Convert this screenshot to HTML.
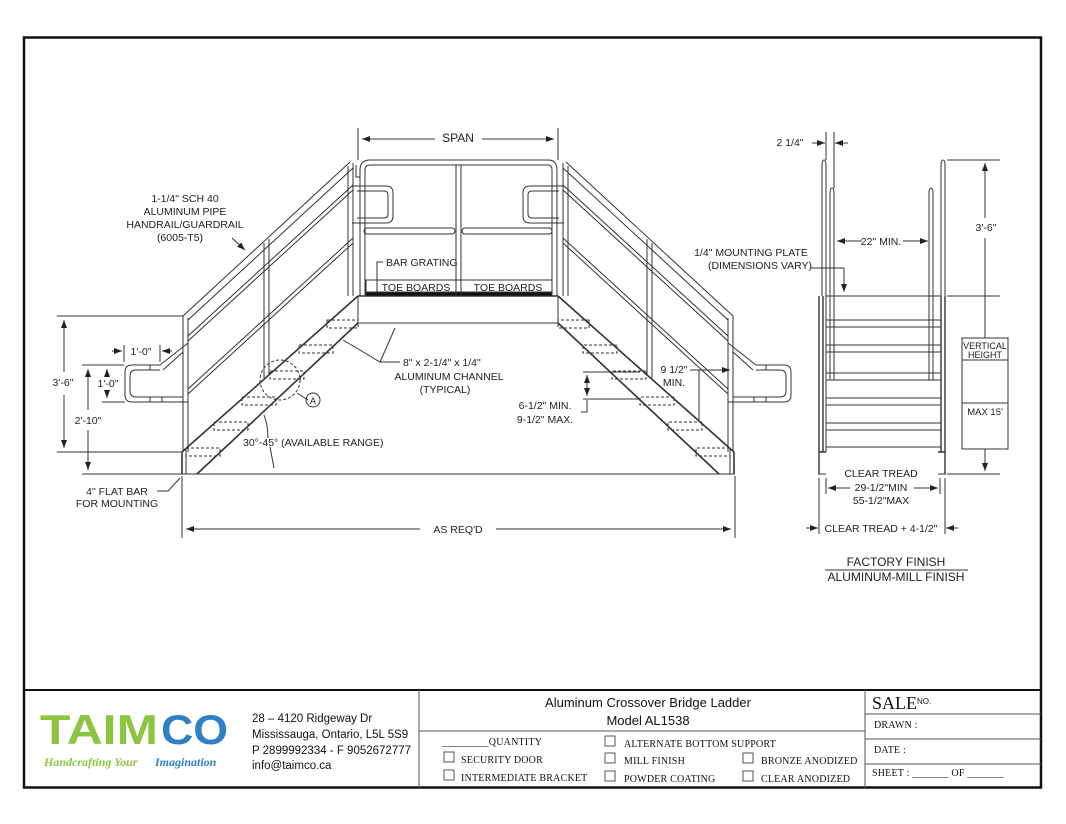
<!DOCTYPE html>
<html><head><meta charset="utf-8"><style>
body{margin:0;background:#fff;}
svg{display:block;}
.d{font-family:"Liberation Sans",sans-serif;font-size:10.5px;fill:#222;}
.s{font-family:"Liberation Serif",serif;font-size:10px;fill:#111;letter-spacing:0.2px;}
</style></head><body>
<svg width="1066" height="824" viewBox="0 0 1066 824" xmlns="http://www.w3.org/2000/svg">
<defs>
<marker id="ar" markerWidth="8" markerHeight="6" refX="8" refY="3" orient="auto" markerUnits="userSpaceOnUse"><path d="M0,0 L8,3 L0,6 z" fill="#222"/></marker>
<g id="side" fill="none" stroke="#333" stroke-width="1">
  <path d="M182,452 L358,296 M197,474 L358,323 M182,452 L182,474" stroke-width="1.6"/>
  <path d="M186,452 L186,474"/>
  <g stroke-dasharray="3,2">
    <rect x="186" y="448" width="34" height="8"/>
    <rect x="214" y="422" width="34" height="8"/>
    <rect x="242" y="397" width="34" height="8"/>
    <rect x="270" y="371" width="34" height="8"/>
    <rect x="299" y="345" width="34" height="8"/>
    <rect x="327" y="320" width="31" height="8"/>
  </g>
  <path d="M183,316 L183,452 M188,318 L188,452"/>
  <path d="M264,243 L264,378 M269,239 L269,374"/>
  <path d="M348,166 L348,296 M353,163 L353,296"/>
  <path d="M183,316 L350,162 M188,320 L353,168"/>
  <path d="M188,336 L353,185 M188,341 L353,190"/>
  <path d="M188,389 L353,238 M188,394 L353,243"/>
  <path d="M188,343 L160,365 M183,352 L163,370"/>
  <path d="M160,365 L132,365 Q125,365 125,372 L125,395 Q125,402 132,402 L188,402"/>
  <path d="M160,370 L136,370 Q130,370 130,376 L130,391 Q130,397 136,397 L183,397"/>
  <path d="M150,365 L150,370 M150,397 L150,402 M162,397 L162,402"/>
</g>
</defs>
<rect x="0" y="0" width="1066" height="824" fill="#fff"/>
<rect x="24" y="37.5" width="1017" height="750" fill="none" stroke="#111" stroke-width="2.5"/>
<line x1="24" y1="690" x2="1041" y2="690" stroke="#111" stroke-width="2"/>
<line x1="419" y1="690" x2="419" y2="788" stroke="#555" stroke-width="1"/>
<line x1="865" y1="690" x2="865" y2="788" stroke="#555" stroke-width="1"/>
<line x1="419" y1="731" x2="865" y2="731" stroke="#555"/>
<line x1="865" y1="714" x2="1041" y2="714" stroke="#555"/>
<line x1="865" y1="739" x2="1041" y2="739" stroke="#555"/>
<line x1="865" y1="764" x2="1041" y2="764" stroke="#555"/>

<use href="#side"/>
<use href="#side" transform="translate(916,0) scale(-1,1)"/>

<g fill="none" stroke="#333" stroke-width="1">
  <circle cx="280" cy="380" r="20" stroke-dasharray="3,2"/>
  <line x1="182" y1="474" x2="735" y2="474"/>
  <line x1="358" y1="296" x2="558" y2="296" stroke-width="1.4"/>
  <line x1="358" y1="323" x2="558" y2="323"/>
  <line x1="358" y1="296" x2="358" y2="323"/>
  <line x1="558" y1="296" x2="558" y2="323"/>
  <rect x="366" y="280" width="186" height="13"/>
  <rect x="366" y="292" width="186" height="4" fill="#111"/>
  <path d="M360,296 L360,170 Q360,160 370,160 L548,160 Q557,160 557,170 L557,296"/>
  <path d="M365,296 L365,170 Q365,165 370,165 L548,165 Q552,165 552,170 L552,296"/>
  <path d="M456,296 L456,165 M461,296 L461,165"/>
  <path d="M356,165 L356,177 L360,177"/>
  <rect x="364" y="228" width="91" height="6" rx="3"/>
  <rect x="462" y="228" width="90" height="6" rx="3"/>
  <path d="M352,186 L386,186 Q393,186 393,193 L393,216 Q393,223 386,223 L352,223"/>
  <path d="M357,191 L384,191 Q388,191 388,195 L388,214 Q388,218 384,218 L357,218"/>
  <path d="M564,186 L530,186 Q523,186 523,193 L523,216 Q523,223 530,223 L564,223"/>
  <path d="M559,191 L532,191 Q528,191 528,195 L528,214 Q528,218 532,218 L559,218"/>
  <path d="M358,128 L358,160 M558,128 L558,160"/>
  <line x1="435" y1="139" x2="362" y2="139" marker-end="url(#ar)"/>
  <line x1="482" y1="139" x2="554" y2="139" marker-end="url(#ar)"/>
  <path d="M182,476 L182,538 M735,476 L735,538"/>
  <line x1="420" y1="529" x2="186" y2="529" marker-end="url(#ar)"/>
  <line x1="496" y1="529" x2="731" y2="529" marker-end="url(#ar)"/>
  <path d="M57,316 L183,316 M57,452 L182,452 M82,365 L124,365 M82,474 L182,474 M102,402 L125,402"/>
  <line x1="64" y1="372" x2="64" y2="320" marker-end="url(#ar)"/>
  <line x1="64" y1="395" x2="64" y2="448" marker-end="url(#ar)"/>
  <line x1="88" y1="410" x2="88" y2="369" marker-end="url(#ar)"/>
  <line x1="88" y1="430" x2="88" y2="470" marker-end="url(#ar)"/>
  <line x1="107" y1="376" x2="107" y2="369" marker-end="url(#ar)"/>
  <line x1="107" y1="390" x2="107" y2="398" marker-end="url(#ar)"/>
  <path d="M124,345 L124,362 M160,345 L160,362"/>
  <line x1="112" y1="351" x2="122" y2="351" marker-end="url(#ar)"/>
  <line x1="172" y1="351" x2="162" y2="351" marker-end="url(#ar)"/>
  <path d="M232,238 L245,250" marker-end="url(#ar)"/>
  <path d="M383,262 L377,262 L377,292"/>
  <path d="M400,362 L380,362 L343,340"/>
  <path d="M380,362 L395,328"/>
  <path d="M297,393 L308,400"/>
  <path d="M157,491 L168,491 L180,478"/>
  <path d="M270,447 L274,468"/>
  <path d="M268,438 Q268,425 264,415"/>
  <path d="M583,372 L640,372 M583,399 L640,399"/>
  <line x1="587" y1="386" x2="587" y2="375" marker-end="url(#ar)"/>
  <line x1="587" y1="386" x2="587" y2="396" marker-end="url(#ar)"/>
  <path d="M581,412 L587,412 L587,400"/>
  <path d="M699,370 L699,420"/>
  <line x1="690" y1="370" x2="730" y2="370" marker-end="url(#ar)"/>
  <circle cx="313" cy="400" r="7"/>

  <path d="M819,296 L819,474 M823,296 L823,452 M945,296 L945,474 M941,296 L941,452 M819,452 L826,452 M938,452 L945,452" stroke-width="1.4"/>
  <path d="M818,474 L826,474 M938,474 L946,474"/>
  <path d="M822,296 L822,165 Q822,160 824,160 Q826,160 826,165 L826,452"/>
  <path d="M941,296 L941,165 Q941,160 943,160 Q945,160 945,165 L945,296"/>
  <path d="M830,380 L830,193 Q830,188 832,188 Q834,188 834,193 L834,380 Z"/>
  <path d="M929,380 L929,193 Q929,188 931,188 Q933,188 933,193 L933,380 Z"/>
  <path d="M826,296 L941,296"/>
  <path d="M826,320 L941,320 M826,327 L941,327"/>
  <path d="M826,345 L941,345 M826,352 L941,352"/>
  <path d="M826,373 L941,373 M826,380 L941,380"/>
  <path d="M826,398 L941,398 M826,405 L941,405"/>
  <path d="M826,423 L941,423 M826,430 L941,430"/>
  <path d="M826,447 L941,447"/>
  <path d="M826,132 L826,160 M834,132 L834,188"/>
  <line x1="812" y1="143" x2="825" y2="143" marker-end="url(#ar)"/>
  <line x1="848" y1="143" x2="835" y2="143" marker-end="url(#ar)"/>
  <line x1="862" y1="241" x2="837" y2="241" marker-end="url(#ar)"/>
  <line x1="903" y1="241" x2="928" y2="241" marker-end="url(#ar)"/>
  <path d="M811,268 L844,268" />
  <line x1="844" y1="268" x2="844" y2="292" marker-end="url(#ar)"/>
  <path d="M947,160 L1000,160 M947,296 L1000,296 M947,474 L1000,474"/>
  <line x1="985" y1="218" x2="985" y2="163" marker-end="url(#ar)"/>
  <line x1="985" y1="238" x2="985" y2="338"/>
  <line x1="985" y1="449" x2="985" y2="471" marker-end="url(#ar)"/>
  <rect x="962" y="338" width="46" height="111"/>
  <path d="M962,360 L1008,360 M962,403 L1008,403"/>
  <path d="M826,478 L826,494 M940,478 L940,494 M819,478 L819,534 M945,478 L945,534"/>
  <line x1="850" y1="488" x2="828" y2="488" marker-end="url(#ar)"/>
  <line x1="914" y1="488" x2="938" y2="488" marker-end="url(#ar)"/>
  <line x1="806" y1="528" x2="818" y2="528" marker-end="url(#ar)"/>
  <line x1="958" y1="528" x2="946" y2="528" marker-end="url(#ar)"/>
  <line x1="825" y1="570" x2="968" y2="570"/>
</g>

<g class="d">
  <text x="458" y="142" text-anchor="middle" font-size="12">SPAN</text>
  <text x="185" y="202" text-anchor="middle">1-1/4" SCH 40</text>
  <text x="185" y="215" text-anchor="middle">ALUMINUM PIPE</text>
  <text x="185" y="228" text-anchor="middle">HANDRAIL/GUARDRAIL</text>
  <text x="180" y="241" text-anchor="middle">(6005-T5)</text>
  <text x="386" y="266">BAR GRATING</text>
  <text x="416" y="291" text-anchor="middle">TOE BOARDS</text>
  <text x="508" y="291" text-anchor="middle">TOE BOARDS</text>
  <text x="403" y="366">8" x 2-1/4" x 1/4"</text>
  <text x="449" y="380" text-anchor="middle">ALUMINUM CHANNEL</text>
  <text x="445" y="393" text-anchor="middle">(TYPICAL)</text>
  <text x="313" y="404" text-anchor="middle" font-size="9">A</text>
  <text x="243" y="446">30°-45° (AVAILABLE RANGE)</text>
  <text x="117" y="495" text-anchor="middle">4" FLAT BAR</text>
  <text x="117" y="507" text-anchor="middle">FOR MOUNTING</text>
  <text x="458" y="533" text-anchor="middle">AS REQ'D</text>
  <text x="63" y="386" text-anchor="middle">3'-6"</text>
  <text x="88" y="424" text-anchor="middle">2'-10"</text>
  <text x="108" y="387" text-anchor="middle">1'-0"</text>
  <text x="141" y="355" text-anchor="middle">1'-0"</text>
  <text x="674" y="373" text-anchor="middle">9 1/2"</text>
  <text x="674" y="386" text-anchor="middle">MIN.</text>
  <text x="545" y="409" text-anchor="middle">6-1/2" MIN.</text>
  <text x="545" y="423" text-anchor="middle">9-1/2" MAX.</text>
  <text x="790" y="146" text-anchor="middle">2 1/4"</text>
  <text x="881" y="245" text-anchor="middle">22" MIN.</text>
  <text x="751" y="256" text-anchor="middle">1/4" MOUNTING PLATE</text>
  <text x="760" y="269" text-anchor="middle">(DIMENSIONS VARY)</text>
  <text x="986" y="231" text-anchor="middle">3'-6"</text>
  <text x="985" y="349" text-anchor="middle" font-size="9">VERTICAL</text>
  <text x="985" y="358" text-anchor="middle" font-size="9">HEIGHT</text>
  <text x="985" y="415" text-anchor="middle" font-size="9.5">MAX 15'</text>
  <text x="881" y="477" text-anchor="middle">CLEAR TREAD</text>
  <text x="881" y="491" text-anchor="middle">29-1/2"MIN</text>
  <text x="881" y="504" text-anchor="middle">55-1/2"MAX</text>
  <text x="881" y="532" text-anchor="middle">CLEAR TREAD + 4-1/2"</text>
  <text x="896" y="566" text-anchor="middle" font-size="12">FACTORY FINISH</text>
  <text x="896" y="581" text-anchor="middle" font-size="12">ALUMINUM-MILL FINISH</text>
</g>

<g font-family="Liberation Sans, sans-serif" font-weight="bold">
  <text x="40" y="744" font-size="42" fill="#8cc540" textLength="118" lengthAdjust="spacingAndGlyphs">TAIM</text>
  <text x="161" y="744" font-size="42" fill="#2e7fc4" textLength="67" lengthAdjust="spacingAndGlyphs">CO</text>
</g>
<g font-family="Liberation Serif, serif" font-style="italic" font-weight="bold" font-size="12">
  <text x="44" y="766" fill="#8cc540">Handcrafting Your</text>
  <text x="155" y="766" fill="#2e7fc4">Imagination</text>
</g>
<g font-family="Liberation Sans, sans-serif" font-size="11.5" fill="#111">
  <text x="252" y="722">28 – 4120 Ridgeway Dr</text>
  <text x="252" y="738">Mississauga, Ontario, L5L 5S9</text>
  <text x="252" y="754">P 2899992334 - F 9052672777</text>
  <text x="252" y="769">info@taimco.ca</text>
</g>
<g font-family="Liberation Sans, sans-serif" font-size="13" fill="#111" text-anchor="middle">
  <text x="648" y="707">Aluminum Crossover Bridge Ladder</text>
  <text x="648" y="725">Model AL1538</text>
</g>
<g class="s">
  <text x="442" y="745">_________QUANTITY</text>
  <text x="461" y="763">SECURITY DOOR</text>
  <text x="461" y="781">INTERMEDIATE BRACKET</text>
  <text x="624" y="747">ALTERNATE BOTTOM SUPPORT</text>
  <text x="624" y="764">MILL FINISH</text>
  <text x="624" y="782">POWDER COATING</text>
  <text x="761" y="764">BRONZE ANODIZED</text>
  <text x="761" y="782">CLEAR ANODIZED</text>
  <text x="874" y="728">DRAWN :</text>
  <text x="874" y="753">DATE :</text>
  <text x="872" y="776">SHEET :   _______  OF  _______</text>
</g>
<g fill="none" stroke="#444" stroke-width="0.9">
  <rect x="444" y="752" width="10" height="10"/>
  <rect x="444" y="770" width="10" height="10"/>
  <rect x="605" y="736" width="10" height="10"/>
  <rect x="605" y="753" width="10" height="10"/>
  <rect x="605" y="771" width="10" height="10"/>
  <rect x="743" y="753" width="10" height="10"/>
  <rect x="743" y="771" width="10" height="10"/>
</g>
<text x="872" y="709" font-family="Liberation Serif, serif" font-size="18" fill="#111">SALE</text>
<text x="917" y="704" font-family="Liberation Sans, sans-serif" font-size="8" fill="#111">NO.</text>
</svg>
</body></html>
